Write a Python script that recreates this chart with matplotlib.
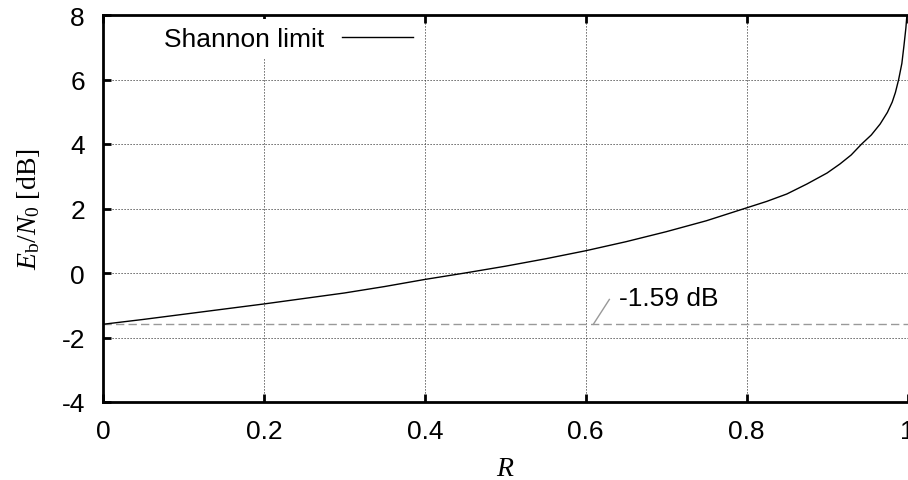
import matplotlib
matplotlib.use("Agg")
import matplotlib.pyplot as plt

# Data
rate = [0.0, 0.05, 0.1, 0.15, 0.2, 0.25, 0.3, 0.35, 0.4, 0.45, 0.5, 0.55,
        0.6, 0.65, 0.7, 0.75, 0.8, 0.825, 0.85, 0.875, 0.9, 0.916, 0.93,
        0.943, 0.955, 0.966, 0.975, 0.981, 0.985, 0.989, 0.993, 0.9956,
        0.998, 0.9993]
ebn0_db = [-1.59, -1.44, -1.28, -1.12, -0.96, -0.79, -0.62, -0.42, -0.20,
           0.0, 0.21, 0.44, 0.69, 0.97, 1.28, 1.62, 2.02, 2.22, 2.45, 2.76,
           3.1, 3.38, 3.66, 4.0, 4.28, 4.62, 4.98, 5.3, 5.6, 6.0, 6.5, 7.05,
           7.6, 8.0]
limit_db = -1.59
legend_label = "Shannon limit"
annot_text = "-1.59 dB"
xticks = [0, 0.2, 0.4, 0.6, 0.8, 1]
xtick_labels = ["0", "0.2", "0.4", "0.6", "0.8", "1"]
yticks = [-4, -2, 0, 2, 4, 6, 8]
ytick_labels = ["-4", "-2", "0", "2", "4", "6", "8"]

plt.rcParams['font.family'] = ['Liberation Sans', 'DejaVu Sans']
plt.rcParams['mathtext.fontset'] = 'custom'
plt.rcParams['mathtext.rm'] = 'Liberation Serif'
plt.rcParams['mathtext.it'] = 'Liberation Serif:italic'

fig = plt.figure(figsize=(9.08, 4.81), dpi=100)
ax = fig.add_axes([103/908, 78/481, 804.5/908, 387/481])

ax.plot(rate, ebn0_db, color='black', lw=1.0, label=legend_label, zorder=3)
ax.axhline(limit_db, color='#999999', lw=1.0, dashes=(6, 3), zorder=2)

# annotation with leader line
ax.plot([0.6095, 0.6294], [limit_db, -0.82], color='#999999', lw=1.0, zorder=2)
ax.text(0.642, -0.79, annot_text, fontsize=19, va='center', ha='left')

ax.set_xlim(0, 1)
ax.set_ylim(-4, 8)
ax.set_xticks(xticks)
ax.set_xticklabels(xtick_labels)
ax.set_yticks(yticks)
ax.set_yticklabels(ytick_labels)
ax.tick_params(direction='in', length=6, width=2, labelsize=19,
               top=True, right=False)
ax.tick_params(axis='x', pad=12)
ax.tick_params(axis='y', pad=13)

ax.grid(True, color='#444444', lw=0.72, dashes=(1.2, 1.8))
for s in ['left', 'bottom', 'top']:
    ax.spines[s].set_linewidth(2.0)
ax.spines['right'].set_visible(False)

ax.set_xlabel(r'$R$', fontsize=20, labelpad=9)
ax.set_ylabel(r'$E_\mathrm{b}/N_0\ \mathrm{[dB]}$', fontsize=20, labelpad=14)

leg = ax.legend(loc='upper left', bbox_to_anchor=(0.066, 0.99), borderaxespad=0,
                markerfirst=False, frameon=True, fancybox=False, fontsize=19,
                handlelength=2.7, handletextpad=0.68, borderpad=0.3)
leg.get_frame().set_edgecolor('none')
leg.get_frame().set_facecolor('white')
leg.get_frame().set_alpha(1.0)
leg.set_zorder(5)

fig.savefig('out.png', dpi=100)
